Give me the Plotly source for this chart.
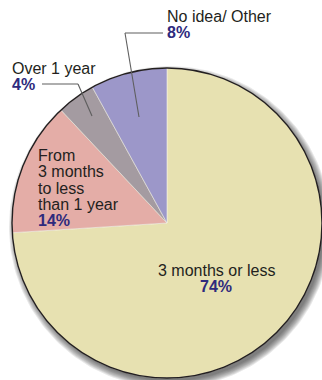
import numpy as np
import plotly.graph_objects as go

# Survey shares by expected duration
categories = ["3 months or less", "From 3 months to less than 1 year", "Over 1 year", "No idea/ Other"]
shares = [74, 14, 4, 8]
slice_colors = ["#E7E1B1", "#E4ADA7", "#A49BA1", "#9C97C9"]

# how each category name is broken across lines in its label
label_lines = [
    ["3 months or less"],
    ["From", "3 months", "to less", "than 1 year"],
    ["Over 1 year"],
    ["No idea/ Other"],
]

W, H = 322, 380
CX, CY, R = 167, 223, 155
LINE_STEP = 16.3


def px(x):
    return x / W


def py(y):
    return 1 - y / H


fig = go.Figure()

# soft drop shadow: translucent discs on a hidden pixel-scaled cartesian layer,
# which is rendered underneath the pie layer
SX, SY = CX + 3, CY + 4
theta = np.linspace(0, 2 * np.pi, 241)
for grow in [6, 5, 4, 3, 2, 1, 0, -1]:
    rr = R + grow
    fig.add_trace(go.Scatter(
        x=SX + rr * np.cos(theta), y=SY + rr * np.sin(theta),
        mode="lines", line=dict(width=0), fill="toself",
        fillcolor="rgba(48,48,48,0.11)", hoverinfo="skip", showlegend=False,
    ))
fig.update_xaxes(visible=False, range=[0, W], domain=[0, 1], fixedrange=True)
fig.update_yaxes(visible=False, range=[H, 0], domain=[0, 1], fixedrange=True)

fig.add_trace(go.Pie(
    labels=categories,
    values=shares,
    sort=False,
    direction="clockwise",
    rotation=0,
    textinfo="none",
    hoverinfo="label+percent",
    marker=dict(colors=slice_colors, line=dict(color="#F4F1E4", width=0.6)),
    domain=dict(x=[px(CX - R), px(CX + R)], y=[py(CY + R), py(CY - R)]),
    showlegend=False,
))

shapes = []
# dark rim around the disc
shapes.append(dict(type="circle", xref="paper", yref="paper", layer="above",
                   x0=px(CX - R), x1=px(CX + R), y0=py(CY + R), y1=py(CY - R),
                   line=dict(color="#231F20", width=1.4), fillcolor="rgba(0,0,0,0)"))

# leader lines
leader = dict(color="#5E5E5E", width=1.1)
for (x0, y0, x1, y1) in [(163, 33, 125, 33), (125, 33, 139, 117),
                         (78, 84, 42, 84), (78, 84, 92, 116)]:
    shapes.append(dict(type="line", xref="paper", yref="paper",
                       x0=px(x0), y0=py(y0), x1=px(x1), y1=py(y1), line=leader))

fig.update_layout(shapes=shapes)

FAMILY = "Liberation Sans, Arial, Helvetica, sans-serif"
text_font = dict(family=FAMILY, size=16, color="#231F20")
pct_font = dict(family=FAMILY, size=16, color="#2E2A7D")


def label(i, x, y, xanchor="left"):
    # y is the vertical centre of the first line's capitals
    lines = label_lines[i]
    for k, line in enumerate(lines):
        fig.add_annotation(xref="paper", yref="paper", x=px(x), y=py(y + k * LINE_STEP),
                           xanchor=xanchor, yanchor="middle", showarrow=False,
                           font=text_font, text=line)
    fig.add_annotation(xref="paper", yref="paper", x=px(x), y=py(y + len(lines) * LINE_STEP),
                       xanchor=xanchor, yanchor="middle", showarrow=False,
                       font=pct_font, text=f"<b>{shares[i]}%</b>")


label(3, 165, 16)
label(2, 10, 68.5)
label(1, 36, 155.5)
label(0, 216, 270.5, xanchor="center")

fig.update_layout(
    width=W, height=H,
    margin=dict(l=0, r=0, t=0, b=0),
    paper_bgcolor="white", plot_bgcolor="white",
)
fig.write_html("out.html")
